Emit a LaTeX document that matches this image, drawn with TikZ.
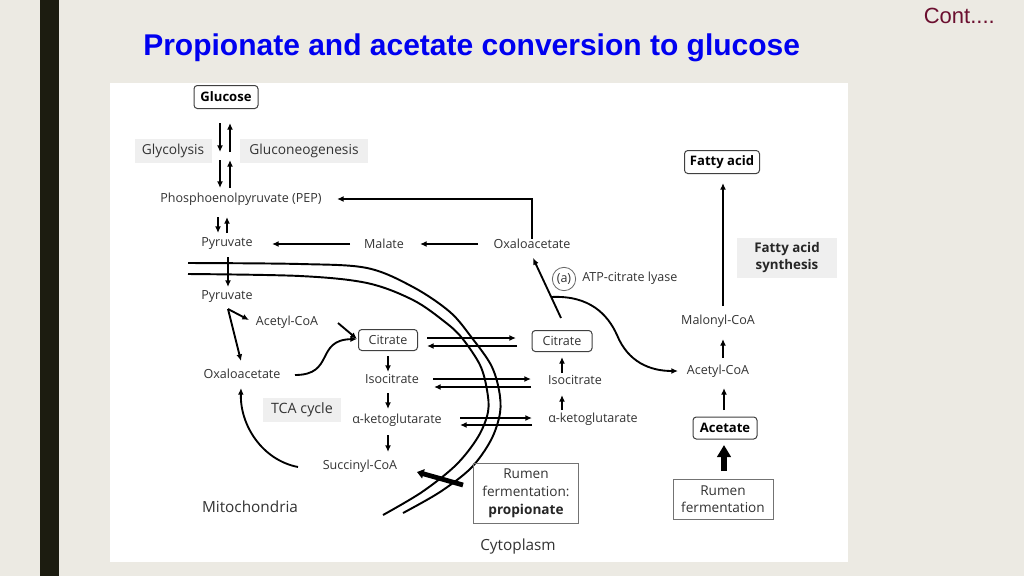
\documentclass[tikz,border=0pt]{standalone}
\usepackage{fontspec}
\usetikzlibrary{arrows.meta}
\newfontfamily\dfont{Open Sans}
\newfontfamily\tfont{Liberation Sans}
\definecolor{pagebg}{HTML}{ECEAE3}
\definecolor{barcol}{HTML}{1C1C10}
\definecolor{titleblue}{HTML}{0000F0}
\definecolor{contred}{HTML}{6B0F2F}
\definecolor{txtgray}{HTML}{333333}
\definecolor{boxgray}{HTML}{EFEFEF}
\begin{document}
\begin{tikzpicture}[x=0.75pt,y=-0.75pt,
  lbl/.style={inner sep=0pt, text=txtgray, font=\dfont\fontsize{9.4}{11}\selectfont},
  rbox/.style={draw=black!75, rounded corners=2.5pt, line width=0.75pt, inner sep=0pt, align=center},
  bbox/.style={rbox, font=\dfont\bfseries\fontsize{9.8}{11}\selectfont},
  cbox/.style={rbox, text=txtgray, font=\dfont\fontsize{9.4}{11}\selectfont},
  gbox/.style={fill=boxgray, inner sep=0pt, align=center, text=txtgray, font=\dfont\fontsize{10.3}{12}\selectfont},
  sbox/.style={draw=black!55, line width=0.75pt, inner sep=0pt, align=center, text=txtgray, font=\dfont\fontsize{10.2}{13.5}\selectfont},
  arr/.style={-{Latex[length=5pt,width=4.4pt]}, line width=1.4pt},
  memb/.style={line width=1.45pt},
  fat/.style={line width=3.6pt, -{Triangle[length=5pt,width=7pt]}},
  fatter/.style={line width=5pt, -{Triangle[length=9pt,width=10pt]}}
]
\path[use as bounding box, fill=pagebg] (0,0) rectangle (1024,576);
\fill[barcol] (40,0) rectangle (59,576);
\fill[white] (110,83) rectangle (848,562);

% title
\node[anchor=base west, inner sep=0pt, text=titleblue, font=\tfont\bfseries\fontsize{22.5}{27}\selectfont] (title) at (143,55) {Propionate and acetate conversion to glucose};
\node[anchor=base east, inner sep=0pt, text=contred, font=\tfont\fontsize{16.5}{20}\selectfont] (cont) at (995,23) {Cont....};

% membranes
\draw[memb] plot[smooth, tension=0.55] coordinates {(188,274) (300,276) (367,283) (413,300) (445,322) (462,338) (480,365) (487,390) (488,412) (478,437) (456,465) (422,492) (383,515)};
\draw[memb] plot[smooth, tension=0.55] coordinates {(188,263) (300,264) (367,268) (413,287) (450,312) (472,338) (491,365) (499,390) (500,413) (491,440) (471,468) (440,492) (403,513)};

% top nodes
\node[bbox, minimum width=48pt, minimum height=17.25pt] (glu) at (226,97) {Glucose};
\node[gbox, minimum width=57.75pt, minimum height=18pt] (glyc) at (173,151) {Glycolysis};
\node[gbox, minimum width=96pt, minimum height=18pt] (gluco) at (304,151) {Gluconeogenesis};
\node[lbl] (pep) at (241,199) {Phosphoenolpyruvate (PEP)};
\node[lbl] (pyrc) at (227,244) {Pyruvate};
\node[lbl] (mal) at (384,244) {Malate};
\node[lbl] (oaac) at (532,244) {Oxaloacetate};

% mitochondria nodes
\node[lbl] (pyrm) at (227,297) {Pyruvate};
\node[lbl] (acm) at (287,322) {Acetyl-CoA};
\node[lbl] (oaam) at (242,374) {Oxaloacetate};
\node[cbox, minimum width=44.25pt, minimum height=15.75pt] (citm) at (388,340) {Citrate};
\node[lbl] (isom) at (392,379) {Isocitrate};
\node[lbl] (akgm) at (397,420) {α-ketoglutarate};
\node[lbl] (suc) at (360,466) {Succinyl-CoA};
\node[gbox, font=\dfont\fontsize{10.7}{12}\selectfont, minimum width=58.5pt, minimum height=18pt] (tca) at (302,410) {TCA cycle};
\node[lbl, font=\dfont\fontsize{11.5}{13}\selectfont] (mito) at (250,507) {Mitochondria};
\node[lbl, font=\dfont\fontsize{11.5}{13}\selectfont] (cyto) at (518,547) {Cytoplasm};
\node[sbox, minimum width=78.75pt, minimum height=45pt] (prop) at (526,493) {Rumen\\fermentation:\\{\bfseries\color{black!85}propionate}};

% cytoplasm nodes
\node[cbox, minimum width=45pt, minimum height=15.75pt] (citc) at (562,341) {Citrate};
\node[lbl] (isoc) at (575,380) {Isocitrate};
\node[lbl] (akgc) at (593,419) {α-ketoglutarate};
\node[draw=black!60, line width=0.6pt, circle, minimum size=17.5pt, inner sep=0pt, text=txtgray, font=\dfont\fontsize{9.4}{11}\selectfont] (enz) at (564,279) {(a)};
\node[lbl, anchor=west] (atp) at (582,278) {ATP-citrate lyase};
\node[lbl] (acc) at (718,371) {Acetyl-CoA};
\node[lbl] (malc) at (718,321) {Malonyl-CoA};
\node[bbox, minimum width=56.25pt, minimum height=17.25pt] (fa) at (722,162) {Fatty acid};
\node[gbox, font=\dfont\bfseries\fontsize{10}{12.75}\selectfont, text=black!85, minimum width=75pt, minimum height=30pt] (fas) at (787,258) {Fatty acid\\synthesis};
\node[bbox, minimum width=48pt, minimum height=16.5pt] (acet) at (725,428) {Acetate};
\node[sbox, font=\dfont\fontsize{10.2}{12.75}\selectfont, minimum width=75pt, minimum height=30pt] (rum) at (723,499) {Rumen\\fermentation};

% glucose <-> PEP
\coordinate (g1a) at (220,123); \coordinate (g1b) at (220,152);
\coordinate (g2a) at (220,160); \coordinate (g2b) at (220,188);
\coordinate (u1a) at (230,152); \coordinate (u1b) at (230,123);
\coordinate (u2a) at (230,188); \coordinate (u2b) at (230,160);
\draw[arr] (g1a) -- (g1b);
\draw[arr] (g2a) -- (g2b);
\draw[arr] (u1a) -- (u1b);
\draw[arr] (u2a) -- (u2b);
% PEP <-> pyruvate
\coordinate (p1a) at (218,217); \coordinate (p1b) at (218,233);
\coordinate (p2a) at (227,233); \coordinate (p2b) at (227,217);
\draw[arr] (p1a) -- (p1b);
\draw[arr] (p2a) -- (p2b);

% cytosolic gluconeogenic route
\coordinate (pepin) at (337,199);
\draw[arr] (oaac.north) |- (pepin);
\coordinate (oaaw) at (478,244); \coordinate (male) at (420,244);
\draw[arr] (oaaw) -- (male);
\coordinate (malw) at (350,244); \coordinate (pyre) at (272,244);
\draw[arr] (malw) -- (pyre);

% pyruvate into mitochondria
\coordinate (pyin1) at (228,257); \coordinate (pyin2) at (228,287);
\draw[arr] (pyin1) -- (pyin2);
\coordinate (fork) at (228,309);
\coordinate (forka) at (249,320);
\coordinate (forkb) at (241,361);
\draw[arr] (fork) -- (forka);
\draw[arr] (fork) -- (forkb);

% TCA
\coordinate (acme) at (338,323); \coordinate (citin) at (357,339);
\draw[arr] (acme) -- (citin);
\coordinate (oaame) at (295,375);
\draw[arr] (oaame) .. controls (335,375) and (315,340) .. (citin);
\coordinate (t1a) at (388,356); \coordinate (t1b) at (388,372);
\coordinate (t2a) at (388,393); \coordinate (t2b) at (388,409);
\coordinate (t3a) at (388,435); \coordinate (t3b) at (388,452);
\draw[arr] (t1a) -- (t1b);
\draw[arr] (t2a) -- (t2b);
\draw[arr] (t3a) -- (t3b);
\coordinate (sucw) at (298,467); \coordinate (oaams) at (241,388);
\draw[arr] (sucw) .. controls (262,460) and (240,425) .. (oaams);

% propionate entry
\coordinate (propa) at (463,485); \coordinate (propb) at (417,472);
\draw[fat] (propa) -- (propb);

% exchanges across membrane
\coordinate (c1a) at (427,338); \coordinate (c1b) at (516,338);
\coordinate (c2a) at (517,346); \coordinate (c2b) at (427,346);
\draw[arr] (c1a) -- (c1b);
\draw[arr] (c2a) -- (c2b);
\coordinate (i1a) at (433,379); \coordinate (i1b) at (531,379);
\coordinate (i2a) at (531,387); \coordinate (i2b) at (434,387);
\draw[arr] (i1a) -- (i1b);
\draw[arr] (i2a) -- (i2b);
\coordinate (k1a) at (460,418); \coordinate (k1b) at (532,418);
\coordinate (k2a) at (532,425); \coordinate (k2b) at (460,425);
\draw[arr] (k1a) -- (k1b);
\draw[arr] (k2a) -- (k2b);

% cytosolic reverse steps
\coordinate (r1a) at (562,410); \coordinate (r1b) at (562,395);
\coordinate (r2a) at (562,373); \coordinate (r2b) at (562,357);
\draw[arr] (r1a) -- (r1b);
\draw[arr] (r2a) -- (r2b);

% ATP-citrate lyase
\coordinate (cla) at (561,318); \coordinate (clb) at (533,258);
\draw[arr] (cla) -- (clb);
\coordinate (lyfork) at (551,297); \coordinate (accw) at (678,371);
\draw[arr] (lyfork) .. controls (590,295) and (608,315) .. (617,335) .. controls (628,362) and (650,371) .. (accw);

% fatty acid synthesis
\coordinate (f1a) at (723,358); \coordinate (f1b) at (723,339);
\draw[arr] (f1a) -- (f1b);
\coordinate (f2a) at (723,306); \coordinate (f2b) at (723,183);
\draw[arr] (f2a) -- (f2b);
\coordinate (f3a) at (724,410); \coordinate (f3b) at (724,388);
\draw[arr] (f3a) -- (f3b);
\coordinate (f4a) at (724,471); \coordinate (f4b) at (724,445);
\draw[fatter] (f4a) -- (f4b);
\end{tikzpicture}
\end{document}
